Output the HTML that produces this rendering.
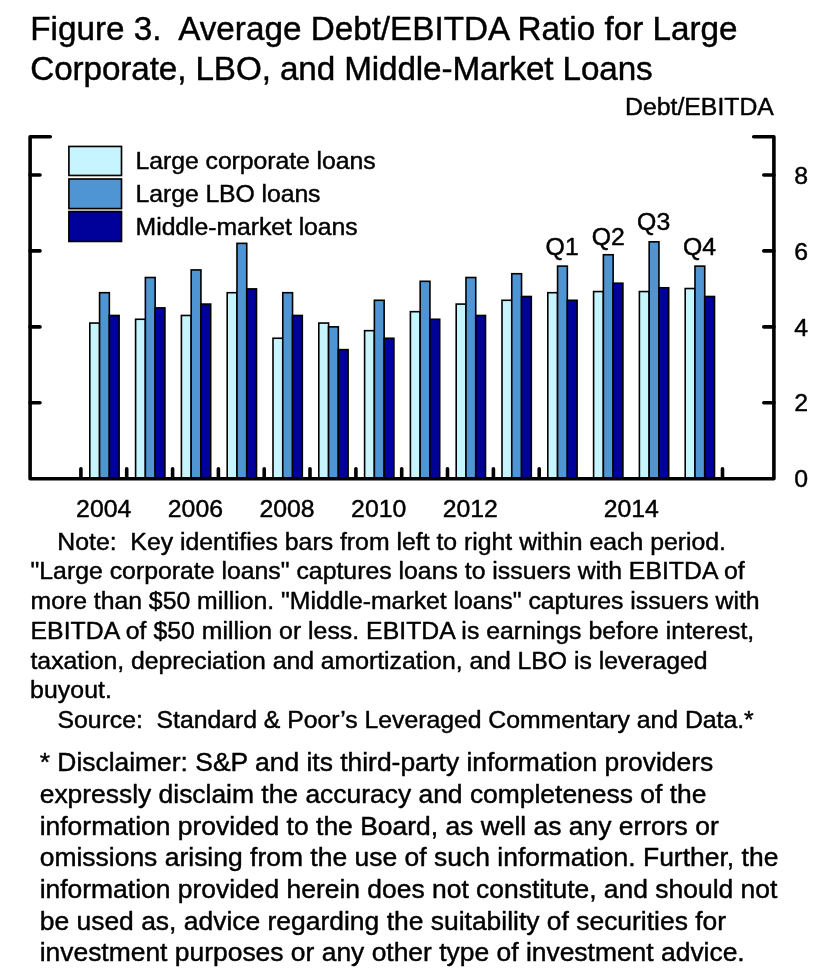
<!DOCTYPE html>
<html lang="en"><head><meta charset="utf-8">
<title>Figure 3. Average Debt/EBITDA Ratio for Large Corporate, LBO, and Middle-Market Loans</title>
<style>
html,body{margin:0;padding:0;background:#fff;}
body{width:825px;height:977px;overflow:hidden;position:relative;font-family:"Liberation Sans", Arial, Helvetica, sans-serif;color:#000;}
svg{position:absolute;left:0;top:0;display:block;}
svg text{font-family:"Liberation Sans", Arial, Helvetica, sans-serif;fill:#000;stroke:#000;stroke-width:0.45px;stroke-linejoin:round;}
</style></head><body>
<svg width="825" height="977" viewBox="0 0 825 977">
<rect width="825" height="977" fill="#fff"/>

<g stroke="#000" stroke-width="1.6">
<rect x="89.80" y="323.06" width="9.77" height="155.64" fill="#c6f5ff"/>
<rect x="99.57" y="292.70" width="9.77" height="186.00" fill="#4f94d3"/>
<rect x="109.34" y="315.47" width="9.77" height="163.23" fill="#00009b"/>
<rect x="135.60" y="319.27" width="9.77" height="159.43" fill="#c6f5ff"/>
<rect x="145.37" y="277.51" width="9.77" height="201.19" fill="#4f94d3"/>
<rect x="155.14" y="307.88" width="9.77" height="170.82" fill="#00009b"/>
<rect x="181.40" y="315.47" width="9.77" height="163.23" fill="#c6f5ff"/>
<rect x="191.17" y="269.92" width="9.77" height="208.78" fill="#4f94d3"/>
<rect x="200.94" y="304.08" width="9.77" height="174.62" fill="#00009b"/>
<rect x="227.20" y="292.70" width="9.77" height="186.00" fill="#c6f5ff"/>
<rect x="236.97" y="243.35" width="9.77" height="235.35" fill="#4f94d3"/>
<rect x="246.74" y="288.90" width="9.77" height="189.80" fill="#00009b"/>
<rect x="273.00" y="338.25" width="9.77" height="140.45" fill="#c6f5ff"/>
<rect x="282.77" y="292.70" width="9.77" height="186.00" fill="#4f94d3"/>
<rect x="292.54" y="315.47" width="9.77" height="163.23" fill="#00009b"/>
<rect x="318.80" y="323.06" width="9.77" height="155.64" fill="#c6f5ff"/>
<rect x="328.57" y="326.86" width="9.77" height="151.84" fill="#4f94d3"/>
<rect x="338.34" y="349.64" width="9.77" height="129.06" fill="#00009b"/>
<rect x="364.60" y="330.66" width="9.77" height="148.04" fill="#c6f5ff"/>
<rect x="374.37" y="300.29" width="9.77" height="178.41" fill="#4f94d3"/>
<rect x="384.14" y="338.25" width="9.77" height="140.45" fill="#00009b"/>
<rect x="410.40" y="311.68" width="9.77" height="167.02" fill="#c6f5ff"/>
<rect x="420.17" y="281.31" width="9.77" height="197.39" fill="#4f94d3"/>
<rect x="429.94" y="319.27" width="9.77" height="159.43" fill="#00009b"/>
<rect x="456.20" y="304.08" width="9.77" height="174.62" fill="#c6f5ff"/>
<rect x="465.97" y="277.51" width="9.77" height="201.19" fill="#4f94d3"/>
<rect x="475.74" y="315.47" width="9.77" height="163.23" fill="#00009b"/>
<rect x="502.00" y="300.29" width="9.77" height="178.41" fill="#c6f5ff"/>
<rect x="511.77" y="273.72" width="9.77" height="204.98" fill="#4f94d3"/>
<rect x="521.54" y="296.49" width="9.77" height="182.21" fill="#00009b"/>
<rect x="547.80" y="292.70" width="9.77" height="186.00" fill="#c6f5ff"/>
<rect x="557.57" y="266.12" width="9.77" height="212.58" fill="#4f94d3"/>
<rect x="567.34" y="300.29" width="9.77" height="178.41" fill="#00009b"/>
<rect x="593.60" y="291.56" width="9.77" height="187.14" fill="#c6f5ff"/>
<rect x="603.37" y="254.74" width="9.77" height="223.96" fill="#4f94d3"/>
<rect x="613.14" y="283.21" width="9.77" height="195.49" fill="#00009b"/>
<rect x="639.40" y="291.56" width="9.77" height="187.14" fill="#c6f5ff"/>
<rect x="649.17" y="241.83" width="9.77" height="236.87" fill="#4f94d3"/>
<rect x="658.94" y="287.76" width="9.77" height="190.94" fill="#00009b"/>
<rect x="685.20" y="288.52" width="9.77" height="190.18" fill="#c6f5ff"/>
<rect x="694.97" y="266.12" width="9.77" height="212.58" fill="#4f94d3"/>
<rect x="704.74" y="296.49" width="9.77" height="182.21" fill="#00009b"/>
</g>
<g stroke="#000" stroke-width="3.6" fill="none" stroke-linecap="round" stroke-linejoin="round">
<path d="M50.3,136.7 H30.1 V478.7 H773.9 V136.7 H753.6999999999999"/>
<path d="M30.1,402.8 H40.0 M763.8,402.8 H773.9"/>
<path d="M30.1,326.9 H40.0 M763.8,326.9 H773.9"/>
<path d="M30.1,250.9 H40.0 M763.8,250.9 H773.9"/>
<path d="M30.1,175.0 H40.0 M763.8,175.0 H773.9"/>
<path d="M80.9,478.1 V468.8"/>
<path d="M126.7,478.1 V468.8"/>
<path d="M172.6,478.1 V468.8"/>
<path d="M218.4,478.1 V468.8"/>
<path d="M264.2,478.1 V468.8"/>
<path d="M310.0,478.1 V468.8"/>
<path d="M355.9,478.1 V468.8"/>
<path d="M401.7,478.1 V468.8"/>
<path d="M447.5,478.1 V468.8"/>
<path d="M493.4,478.1 V468.8"/>
<path d="M539.2,478.1 V468.8"/>
<path d="M722.5,478.1 V468.8"/>
</g>
<g stroke="#000" stroke-width="1.65">
<rect x="68.9" y="146.45" width="52.6" height="29.0" fill="#c6f5ff"/>
<rect x="68.9" y="179.00" width="52.6" height="29.6" fill="#4f94d3"/>
<rect x="68.9" y="211.55" width="52.6" height="29.9" fill="#00009b"/>
</g>
<g font-size="24.8">
<text x="135.6" y="169.35" textLength="240.05">Large corporate loans</text>
<text x="135.6" y="201.95" textLength="184.9">Large LBO loans</text>
<text x="135.6" y="234.55" textLength="222.1">Middle-market loans</text>
</g>
<g font-size="24.8">
<text x="773.9" y="115.4" text-anchor="end">Debt/EBITDA</text>
<text x="794.2" y="487.3">0</text>
<text x="794.2" y="411.4">2</text>
<text x="794.2" y="335.5">4</text>
<text x="794.2" y="259.5">6</text>
<text x="794.2" y="183.6">8</text>
<text x="103.7" y="517.3" text-anchor="middle">2004</text>
<text x="195.4" y="517.3" text-anchor="middle">2006</text>
<text x="287.0" y="517.3" text-anchor="middle">2008</text>
<text x="378.7" y="517.3" text-anchor="middle">2010</text>
<text x="470.3" y="517.3" text-anchor="middle">2012</text>
<text x="631.3" y="517.3" text-anchor="middle">2014</text>
<text x="545.6" y="255.0">Q1</text>
<text x="591.7" y="244.5">Q2</text>
<text x="637.1" y="230.2">Q3</text>
<text x="682.9" y="255.0">Q4</text>
</g>
<g font-size="33.25">
<text x="30.3" y="40" xml:space="preserve">Figure 3.  Average Debt/EBITDA Ratio for Large</text>
<text x="30.3" y="79.5" textLength="622.4">Corporate, LBO, and Middle-Market Loans</text>
</g>
<g font-size="24.8">
<text x="57.3" y="549.75" textLength="668.7" xml:space="preserve">Note:  Key identifies bars from left to right within each period.</text>
<text x="30.5" y="579.4" textLength="714.2" xml:space="preserve">"Large corporate loans" captures loans to issuers with EBITDA of</text>
<text x="30.5" y="609.0" textLength="729.15" xml:space="preserve">more than $50 million. "Middle-market loans" captures issuers with</text>
<text x="30.5" y="638.6" textLength="723.7" xml:space="preserve">EBITDA of $50 million or less. EBITDA is earnings before interest,</text>
<text x="30.5" y="668.5" textLength="677.0" xml:space="preserve">taxation, depreciation and amortization, and LBO is leveraged</text>
<text x="30.0" y="697.85" textLength="81.9" xml:space="preserve">buyout.</text>
<text x="57.6" y="728.4" textLength="696.1" xml:space="preserve">Source:  Standard &amp; Poor’s Leveraged Commentary and Data.*</text>
</g>
<g font-size="26.45">
<text x="39.7" y="771.30" textLength="673.5">* Disclaimer: S&amp;P and its third-party information providers</text>
<text x="39.7" y="802.95" textLength="666.7">expressly disclaim the accuracy and completeness of the</text>
<text x="39.7" y="834.60" textLength="679.0">information provided to the Board, as well as any errors or</text>
<text x="39.7" y="866.25" textLength="738.7">omissions arising from the use of such information. Further, the</text>
<text x="39.7" y="897.90" textLength="737.6">information provided herein does not constitute, and should not</text>
<text x="39.7" y="929.55" textLength="686.4">be used as, advice regarding the suitability of securities for</text>
<text x="39.7" y="961.20" textLength="705.0">investment purposes or any other type of investment advice.</text>
</g>
</svg>
</body></html>
